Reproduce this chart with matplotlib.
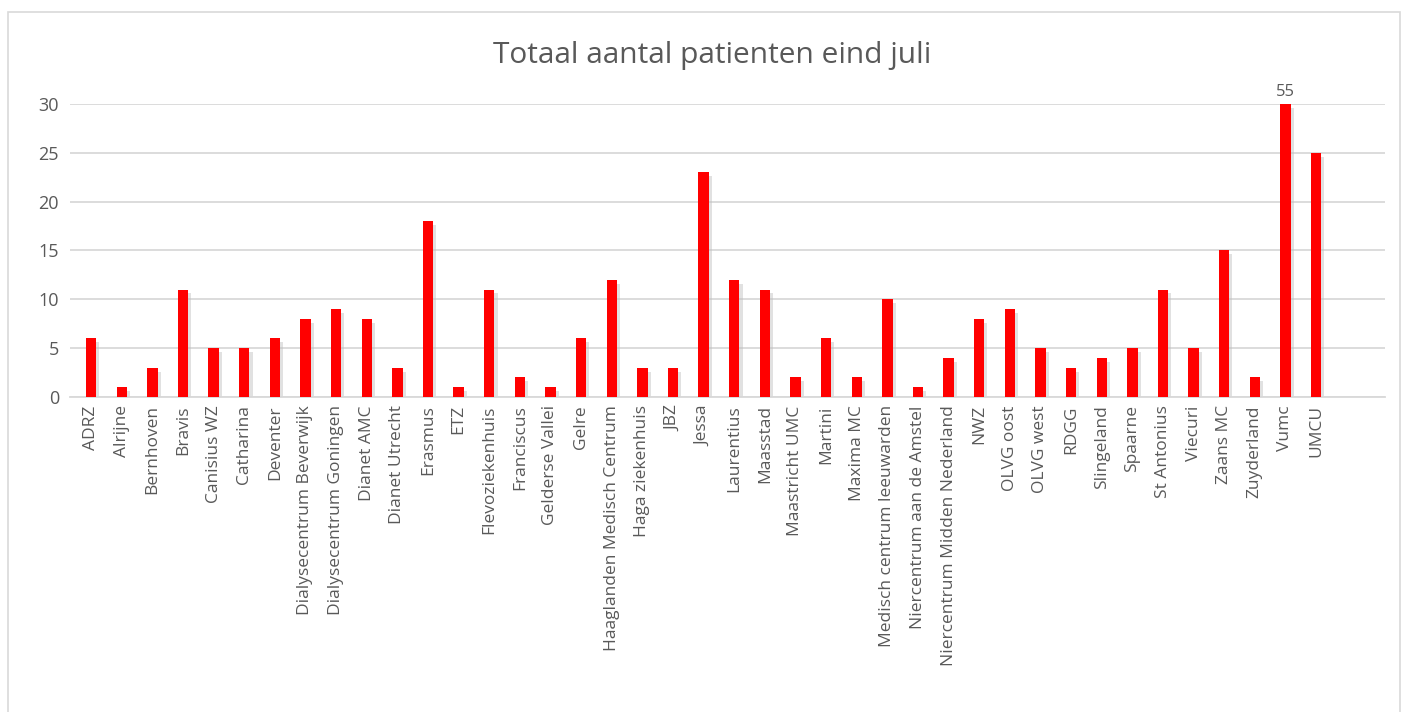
import numpy as np
import matplotlib
matplotlib.use("Agg")
import matplotlib.pyplot as plt
from matplotlib.patches import Rectangle

#--- data (Vumc = 55, clipped at the 30 axis limit)
centra = ["ADRZ", "Alrijne", "Bernhoven", "Bravis", "Canisius WZ", "Catharina",
          "Deventer", "Dialysecentrum Beverwijk", "Dialysecentrum Goningen",
          "Dianet AMC", "Dianet Utrecht", "Erasmus", "ETZ", "Flevoziekenhuis",
          "Franciscus", "Gelderse Vallei", "Gelre", "Haaglanden Medisch Centrum",
          "Haga ziekenhuis", "JBZ", "Jessa", "Laurentius", "Maasstad",
          "Maastricht UMC", "Martini", "Maxima MC", "Medisch centrum leeuwarden",
          "Niercentrum aan de Amstel", "Niercentrum Midden Nederland", "NWZ",
          "OLVG oost", "OLVG west", "RDGG", "Slingeland", "Spaarne", "St Antonius",
          "Viecuri", "Zaans MC", "Zuyderland", "Vumc", "UMCU"]
patienten = [6, 1, 3, 11, 5, 5, 6, 8, 9, 8, 3, 18, 1, 11, 2, 1, 6, 12, 3, 3, 23,
             12, 11, 2, 6, 2, 10, 1, 4, 8, 9, 5, 3, 4, 5, 11, 5, 15, 2, 55, 25]
y_max = 30
y_ticks = [0, 5, 10, 15, 20, 25, 30]

plt.rcParams['font.family'] = ['Open Sans', 'DejaVu Sans']
grey = '#595959'

fig = plt.figure(figsize=(14.05, 7.12), dpi=100)
fig.patches.append(Rectangle((8/1405, -0.1), (1400-8)/1405, 1.1 - 12/712,
                             transform=fig.transFigure, fill=False,
                             edgecolor='#d9d9d9', linewidth=1.2))

ax = fig.add_axes([70/1405, 1-397/712, (1385-70)/1405, (397-104)/712])
x = np.arange(len(centra))
shown = np.minimum(patienten, y_max)

# soft shadow behind the bars
ax.bar(x + 0.07, shown - 0.4, width=0.4, color='#bdbdbd', alpha=0.45, zorder=2)
ax.bar(x, shown, width=0.34, color='#ff0000', zorder=3)

for xi, v in zip(x, patienten):
    if v > y_max:
        ax.text(xi, y_max + 0.4, str(v), ha='center', va='bottom',
                fontsize=12, color=grey)

ax.set_ylim(0, y_max)
ax.set_xlim(-0.69, len(centra) + 1.25)
ax.set_yticks(y_ticks)
ax.set_xticks(x)
ax.set_xticklabels(centra, rotation=90, fontsize=12.5, color=grey)
ax.tick_params(axis='y', labelsize=13, colors=grey, length=0, pad=8)
ax.tick_params(axis='x', length=0, pad=6)
ax.grid(axis='y', color='#d9d9d9', linewidth=1.3, zorder=0)
for s in ['top', 'right', 'left']:
    ax.spines[s].set_visible(False)
ax.spines['bottom'].set_color('#d9d9d9')
ax.spines['bottom'].set_linewidth(1.3)

fig.text(712/1405, 1-55/712, "Totaal aantal patienten eind juli",
         ha='center', va='center', fontsize=21.5, color=grey)

fig.savefig('out.png', dpi=100)
